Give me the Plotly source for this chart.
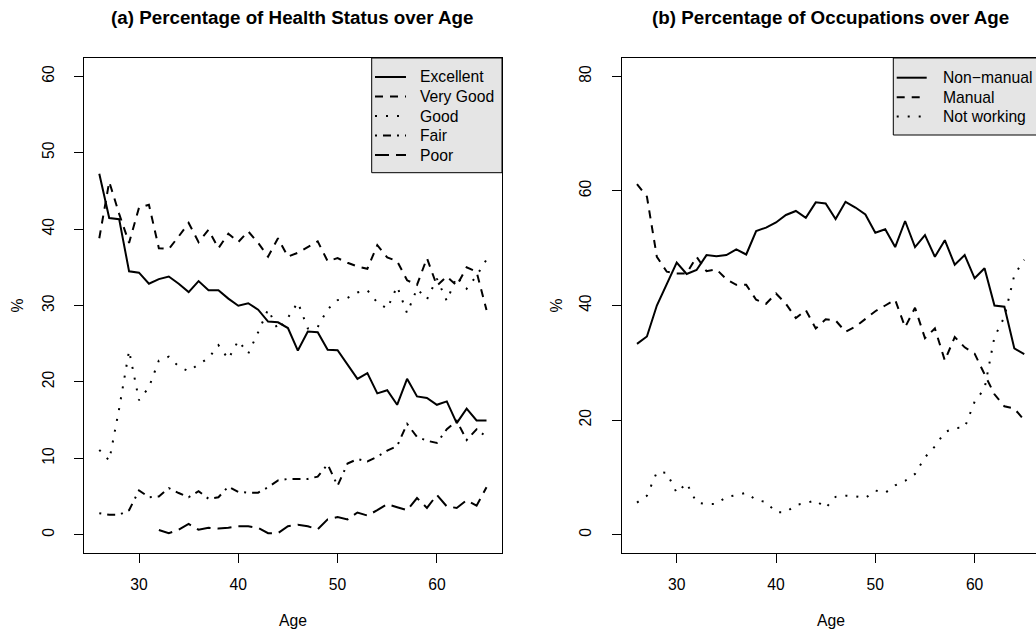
import plotly.graph_objects as go

# ---- data -------------------------------------------------------------
age = list(range(26, 66))

# (a) health status, % of respondents at each age
excellent = [47.25, 41.45, 41.3, 34.47, 34.3, 32.85, 33.46, 33.8, 32.85, 31.76,
             33.2, 32.0, 32.0, 30.9, 29.97, 30.3, 29.45, 27.9, 27.8, 27.05,
             24.1, 26.6, 26.5, 24.2, 24.15, 22.25, 20.4, 21.15, 18.5, 18.9,
             17.0, 20.4, 18.1, 17.9, 17.0, 17.45, 14.6, 16.5, 14.95, 14.95]
very_good = [38.8, 46.2, 42.0, 38.2, 42.8, 43.2, 37.5, 37.4, 39.05, 40.8,
             38.3, 39.9, 37.5, 39.4, 38.3, 39.7, 38.2, 36.4, 38.8, 36.4,
             36.9, 37.7, 38.4, 35.8, 36.2, 35.6, 35.1, 34.8, 37.9, 36.3,
             35.8, 33.3, 32.7, 36.2, 32.6, 33.8, 32.6, 35.0, 34.4, 29.4]
good = [11.1, 9.7, 16.5, 24.1, 17.6, 19.3, 22.8, 23.3, 22.0, 21.4,
        22.3, 23.1, 24.8, 23.0, 25.4, 23.7, 26.5, 29.5, 26.8, 28.4,
        30.4, 27.0, 27.2, 29.5, 30.7, 31.0, 31.7, 32.0, 30.4, 29.6,
        32.5, 29.0, 32.2, 30.8, 33.5, 30.6, 33.8, 32.2, 33.9, 36.0]
fair = [2.8, 2.6, 2.6, 3.2, 5.8, 4.9, 5.0, 6.1, 5.45, 4.9,
        5.7, 4.7, 4.9, 6.3, 5.6, 5.5, 5.5, 6.2, 7.1, 7.3,
        7.3, 7.3, 7.6, 9.2, 6.4, 9.3, 9.9, 9.6, 10.2, 11.0,
        11.6, 14.5, 12.8, 12.3, 12.0, 13.8, 14.9, 12.4, 13.8, 12.8]
poor = [None, None, None, None, None, None, 0.6, 0.2, 0.65, 1.4,
        0.65, 0.9, 0.8, 0.9, 1.1, 1.1, 0.9, 0.2, 0.2, 1.1,
        1.3, 1.1, 0.7, 2.0, 2.3, 2.0, 2.9, 2.5, 3.2, 4.0,
        3.6, 3.2, 4.8, 3.5, 5.2, 3.7, 3.5, 4.5, 3.8, 6.2]

# (b) occupation, % of respondents at each age
non_manual = [33.3, 34.6, 40.0, 43.9, 47.5, 45.5, 46.2, 48.8, 48.6, 48.8,
              49.8, 48.9, 53.0, 53.6, 54.5, 55.8, 56.5, 55.3, 58.0, 57.8,
              55.1, 58.1, 57.1, 55.9, 52.7, 53.3, 50.2, 54.75, 50.2, 52.3,
              48.5, 51.4, 47.1, 48.8, 44.75, 46.5, 40.0, 39.8, 32.5, 31.5]
manual = [61.2, 59.0, 48.5, 45.9, 45.6, 45.6, 48.5, 46.0, 46.3, 44.6,
          43.6, 43.6, 41.0, 40.3, 42.1, 40.3, 37.8, 39.2, 36.0, 37.6,
          37.4, 35.4, 36.3, 37.6, 39.0, 40.0, 41.0, 36.2, 39.6, 34.3,
          36.0, 30.4, 34.5, 32.7, 31.6, 28.0, 24.5, 22.4, 22.0, 20.0]
not_working = [5.6, 6.8, 10.9, 10.8, 7.3, 9.0, 5.6, 5.35, 5.35, 6.6,
               6.9, 7.3, 6.05, 5.7, 3.9, 3.9, 5.2, 5.5, 6.0, 4.65,
               6.6, 6.8, 6.7, 6.4, 7.7, 7.3, 8.6, 9.4, 10.6, 13.5,
               15.4, 17.9, 18.6, 18.7, 23.2, 25.5, 34.5, 38.0, 45.3, 48.0]

health_labels = ["Excellent", "Very Good", "Good", "Fair", "Poor"]
occ_labels = ["Non\u2212manual", "Manual", "Not working"]

# ---- styling ----------------------------------------------------------
W, H = 1036, 631
FONT = "Liberation Sans, Arial, Helvetica, sans-serif"
FS = 15.7
LW = 2
# R-like line types: solid, dashed, dotted, dotdash, longdash
LTY = ["solid", "8px,7px", "2px,9px", "2px,6px,8px,6px", "14px,7px"]


def px(x):
    return x / W


def py(y):
    return 1 - y / H


fig = go.Figure()

for vals, name, dash in zip([excellent, very_good, good, fair, poor], health_labels, LTY):
    fig.add_trace(go.Scatter(x=age, y=vals, mode="lines", name=name,
                             line=dict(color="black", width=LW, dash=dash),
                             connectgaps=False, showlegend=False,
                             xaxis="x", yaxis="y"))

for vals, name, dash in zip([non_manual, manual, not_working], occ_labels, LTY[:3]):
    fig.add_trace(go.Scatter(x=age, y=vals, mode="lines", name=name,
                             line=dict(color="black", width=LW, dash=dash),
                             showlegend=False, xaxis="x2", yaxis="y2"))

axis_common = dict(showgrid=False, zeroline=False, showline=True, linecolor="black",
                   linewidth=1, ticks="outside", ticklen=9, tickcolor="black",
                   tickwidth=1, tickfont=dict(family=FONT, size=FS, color="black"))
x_common = dict(ticklabelstandoff=8, **axis_common)
y_common = dict(ticklabelstandoff=14, tickangle=-90, **axis_common)

y_dom = [py(553), py(58)]
fig.update_layout(
    width=W, height=H, margin=dict(l=0, r=0, t=0, b=0),
    paper_bgcolor="white", plot_bgcolor="white", showlegend=False,
    xaxis=dict(domain=[px(83.8), px(502)], range=[24.44, 66.56],
               tickvals=[30, 40, 50, 60], mirror=True, anchor="y", **x_common),
    yaxis=dict(domain=y_dom, range=[-2.4, 62.4], tickvals=[0, 10, 20, 30, 40, 50, 60],
               mirror=True, anchor="x", **y_common),
    xaxis2=dict(domain=[px(621.5), 1.0], range=[24.44, 24.44 + (W - 621.5) / 9.93],
                tickvals=[30, 40, 50, 60], mirror=True, anchor="y2", **x_common),
    yaxis2=dict(domain=y_dom, range=[-3.2, 83.2], tickvals=[0, 20, 40, 60, 80],
                anchor="x2", **y_common),
)

shapes = []
annotations = []


def legend(x0, x1, y0, y1, rows_y, seg_x0, seg_x1, text_x, labels, dashes):
    shapes.append(dict(type="rect", xref="paper", yref="paper",
                       x0=px(x0), x1=px(x1), y0=py(y1), y1=py(y0),
                       fillcolor="#E5E5E5", line=dict(color="black", width=1),
                       layer="above"))
    for yy, lab, dash in zip(rows_y, labels, dashes):
        shapes.append(dict(type="line", xref="paper", yref="paper",
                           x0=px(seg_x0), x1=px(seg_x1), y0=py(yy), y1=py(yy),
                           line=dict(color="black", width=LW, dash=dash),
                           layer="above"))
        annotations.append(dict(text=lab, xref="paper", yref="paper",
                                x=px(text_x), y=py(yy), xanchor="left",
                                yanchor="middle", showarrow=False,
                                font=dict(family=FONT, size=FS, color="black")))


legend(371.7, 502, 58, 172.7, [77, 96.5, 116, 135.5, 155], 375, 406, 418,
       health_labels, LTY)
legend(893.3, 1045, 58, 135, [77.7, 97.3, 116.5], 896.7, 926.7, 941,
       occ_labels, LTY[:3])

# titles and axis labels
for cx, title in [(292.9, "(a) Percentage of Health Status over Age"),
                  (830.6, "(b) Percentage of Occupations over Age")]:
    annotations.append(dict(text="<b>%s</b>" % title, xref="paper", yref="paper",
                            x=px(cx), y=py(18), xanchor="center", yanchor="middle",
                            showarrow=False,
                            font=dict(family=FONT, size=18.8, color="black")))
    annotations.append(dict(text="Age", xref="paper", yref="paper",
                            x=px(cx), y=py(620), xanchor="center", yanchor="middle",
                            showarrow=False,
                            font=dict(family=FONT, size=FS, color="black")))
for cx in [17, 556]:
    annotations.append(dict(text="%", xref="paper", yref="paper", textangle=-90,
                            x=px(cx), y=py(305.5), xanchor="center", yanchor="middle",
                            showarrow=False,
                            font=dict(family=FONT, size=FS, color="black")))

fig.update_layout(shapes=shapes, annotations=annotations)
fig.write_html("out.html")
